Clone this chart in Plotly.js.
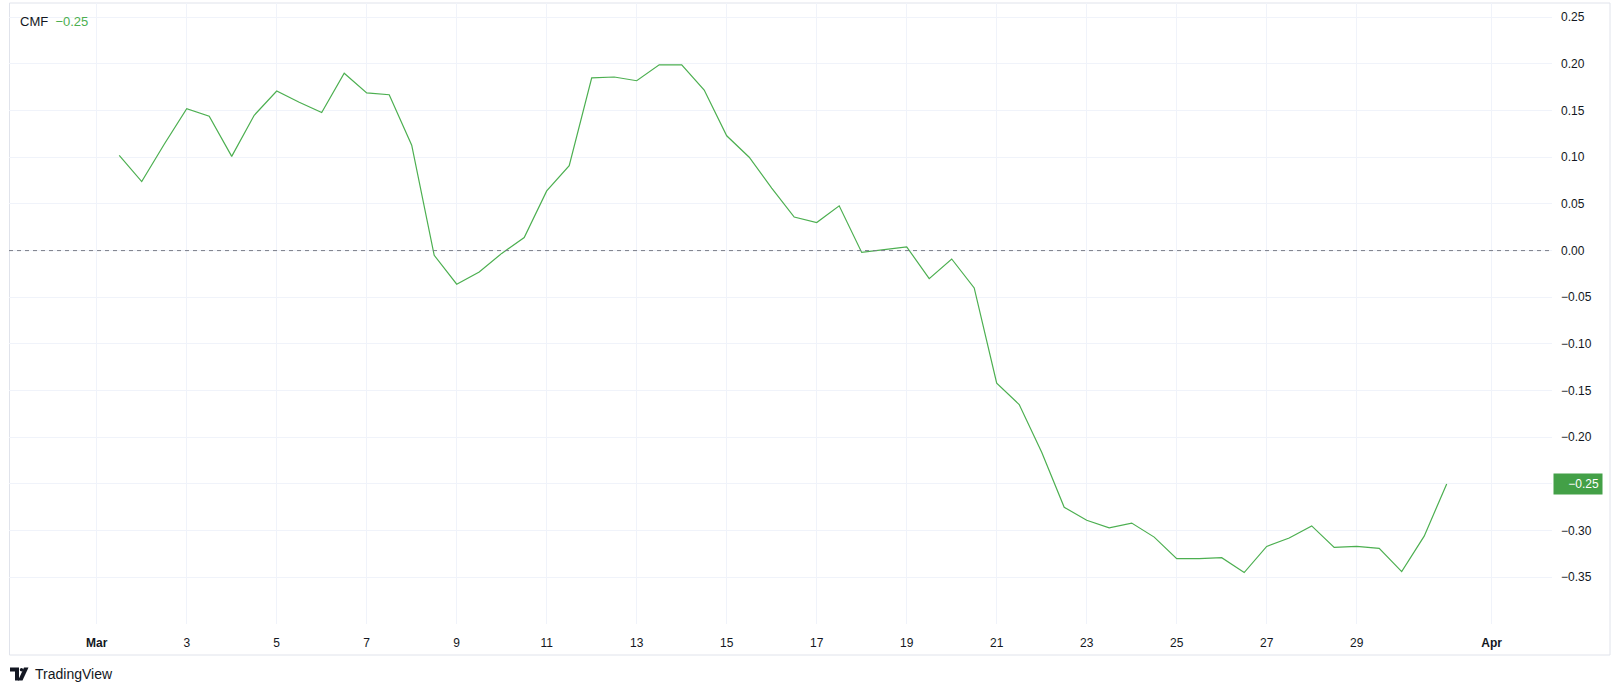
<!DOCTYPE html>
<html>
<head>
<meta charset="utf-8">
<script src="https://cdn.plot.ly/plotly-3.0.1.min.js"></script>
<style>
  html, body { margin: 0; padding: 0; background: #ffffff; }
  #chart { width: 1619px; height: 692px; }
</style>
</head>
<body>
<div id="chart"></div>
<script>
// ---- data ----
const times = [
  '2025-03-01 12:00','2025-03-02 00:00','2025-03-02 12:00','2025-03-03 00:00','2025-03-03 12:00',
  '2025-03-04 00:00','2025-03-04 12:00','2025-03-05 00:00','2025-03-05 12:00','2025-03-06 00:00',
  '2025-03-06 12:00','2025-03-07 00:00','2025-03-07 12:00','2025-03-08 00:00','2025-03-08 12:00',
  '2025-03-09 00:00','2025-03-09 12:00','2025-03-10 00:00','2025-03-10 12:00','2025-03-11 00:00',
  '2025-03-11 12:00','2025-03-12 00:00','2025-03-12 12:00','2025-03-13 00:00','2025-03-13 12:00',
  '2025-03-14 00:00','2025-03-14 12:00','2025-03-15 00:00','2025-03-15 12:00','2025-03-16 00:00',
  '2025-03-16 12:00','2025-03-17 00:00','2025-03-17 12:00','2025-03-18 00:00','2025-03-18 12:00',
  '2025-03-19 00:00','2025-03-19 12:00','2025-03-20 00:00','2025-03-20 12:00','2025-03-21 00:00',
  '2025-03-21 12:00','2025-03-22 00:00','2025-03-22 12:00','2025-03-23 00:00','2025-03-23 12:00',
  '2025-03-24 00:00','2025-03-24 12:00','2025-03-25 00:00','2025-03-25 12:00','2025-03-26 00:00',
  '2025-03-26 12:00','2025-03-27 00:00','2025-03-27 12:00','2025-03-28 00:00','2025-03-28 12:00',
  '2025-03-29 00:00','2025-03-29 12:00','2025-03-30 00:00','2025-03-30 12:00','2025-03-31 00:00'
];
const cmf = [
  0.102, 0.074, 0.114, 0.152, 0.144,
  0.101, 0.145, 0.171, 0.159, 0.148,
  0.190, 0.169, 0.167, 0.113, -0.005,
  -0.036, -0.023, -0.003, 0.014, 0.064,
  0.091, 0.185, 0.186, 0.182, 0.199,
  0.199, 0.172, 0.123, 0.100, 0.067,
  0.036, 0.030, 0.048, -0.002, 0.001,
  0.004, -0.030, -0.009, -0.040, -0.142,
  -0.165, -0.216, -0.275, -0.289, -0.297,
  -0.292, -0.307, -0.330, -0.330, -0.329,
  -0.345, -0.317, -0.308, -0.295, -0.318,
  -0.317, -0.319, -0.344, -0.306, -0.250
];
const xTickVals = ['2025-03-01','2025-03-03','2025-03-05','2025-03-07','2025-03-09','2025-03-11',
  '2025-03-13','2025-03-15','2025-03-17','2025-03-19','2025-03-21','2025-03-23','2025-03-25',
  '2025-03-27','2025-03-29','2025-04-01'];
const xTickText = ['<b>Mar</b>','3','5','7','9','11','13','15','17','19','21','23','25','27','29','<b>Apr</b>'];
const yTickVals = [0.25,0.20,0.15,0.10,0.05,0.00,-0.05,-0.10,-0.15,-0.20,-0.25,-0.30,-0.35];
// the -0.25 label is hidden behind the last-value badge in the reference
const yTickText = ['0.25','0.20','0.15','0.10','0.05','0.00','\u22120.05','\u22120.10','\u22120.15','\u22120.20','','\u22120.30','\u22120.35'];
const seriesName = 'CMF';
const lastLabel = '\u22120.25';

// ---- layout helpers (pixel -> paper) ----
const W = 1619, H = 692;
const mL = 9, mR = 67, mT = 3, mB = 68;
const pw = W - mL - mR, ph = H - mT - mB;
const px = x => (x - mL) / pw;
const py = y => (H - mB - y) / ph;

const green = '#43a047';
const lineGreen = '#4caf50';
const textCol = '#131722';
const gridCol = '#f0f3fa';

const trace = {
  x: times, y: cmf, type: 'scatter', mode: 'lines',
  line: { color: lineGreen, width: 1.2 },
  hoverinfo: 'skip', showlegend: false
};

const shapes = [
  // frame
  { type: 'rect', xref: 'paper', yref: 'paper', x0: px(9.5), x1: px(1610), y0: py(655), y1: py(3),
    line: { color: '#e0e3eb', width: 1 }, fillcolor: 'rgba(0,0,0,0)', layer: 'below' },
  // zero dashed line
  { type: 'line', xref: 'paper', yref: 'y', x0: 0, x1: 1, y0: 0, y1: 0,
    line: { color: '#787b86', width: 1, dash: '4px,4px' } },
  // TradingView logo pieces
  { type: 'path', xref: 'paper', yref: 'paper',
    path: `M ${px(10)} ${py(667.5)} L ${px(19)} ${py(667.5)} L ${px(19)} ${py(680.5)} L ${px(15)} ${py(680.5)} L ${px(15)} ${py(671.5)} L ${px(10)} ${py(671.5)} Z`,
    fillcolor: textCol, line: { width: 0 } },
  { type: 'circle', xref: 'paper', yref: 'paper', x0: px(19.8), x1: px(23.2), y0: py(671.5), y1: py(668),
    fillcolor: textCol, line: { width: 0 } },
  { type: 'path', xref: 'paper', yref: 'paper',
    path: `M ${px(24)} ${py(667.5)} L ${px(28.5)} ${py(667.5)} L ${px(22.5)} ${py(680.5)} L ${px(18)} ${py(680.5)} Z`,
    fillcolor: textCol, line: { width: 0 } }
];

const annotations = [
  { xref: 'paper', yref: 'paper', x: px(18), y: py(21), xanchor: 'left', yanchor: 'middle',
    text: `${seriesName}&nbsp;&nbsp;<span style="color:#4caf50">${'\u2212' + Math.abs(cmf[cmf.length-1]).toFixed(2)}</span>`,
    showarrow: false, font: { family: 'Liberation Sans, Arial, sans-serif', size: 13, color: textCol } },
  { xref: 'paper', yref: 'y', x: px(1553), y: cmf[cmf.length-1], xanchor: 'left', yanchor: 'middle',
    text: lastLabel, showarrow: false, bgcolor: green, borderpad: 3, width: 42, align: 'right',
    font: { family: 'Liberation Sans, Arial, sans-serif', size: 12, color: '#ffffff' } },
  { xref: 'paper', yref: 'paper', x: px(33), y: py(674), xanchor: 'left', yanchor: 'middle',
    text: 'TradingView', showarrow: false,
    font: { family: 'Liberation Sans, Arial, sans-serif', size: 14, color: textCol } }
];

const layout = {
  width: W, height: H,
  margin: { l: mL, r: mR, t: mT, b: mB, pad: 0 },
  paper_bgcolor: '#ffffff', plot_bgcolor: '#ffffff',
  font: { family: 'Liberation Sans, Arial, sans-serif', size: 12, color: textCol },
  showlegend: false,
  xaxis: {
    type: 'date',
    range: ['2025-02-27 01:13', '2025-04-02 08:10'],
    tickmode: 'array', tickvals: xTickVals, ticktext: xTickText,
    showgrid: true, gridcolor: gridCol, gridwidth: 1,
    zeroline: false, showline: false, ticks: '',
    ticklabelstandoff: 10,
    tickfont: { size: 12, color: textCol }
  },
  yaxis: {
    side: 'right',
    range: [-0.4001, 0.2653],
    tickmode: 'array', tickvals: yTickVals, ticktext: yTickText,
    showgrid: true, gridcolor: gridCol, gridwidth: 1,
    zeroline: false, showline: false, ticks: '',
    ticklabelstandoff: 8,
    tickfont: { size: 12, color: textCol }
  },
  shapes: shapes,
  annotations: annotations
};

Plotly.newPlot('chart', [trace], layout, { displayModeBar: false, staticPlot: true });
</script>
</body>
</html>
